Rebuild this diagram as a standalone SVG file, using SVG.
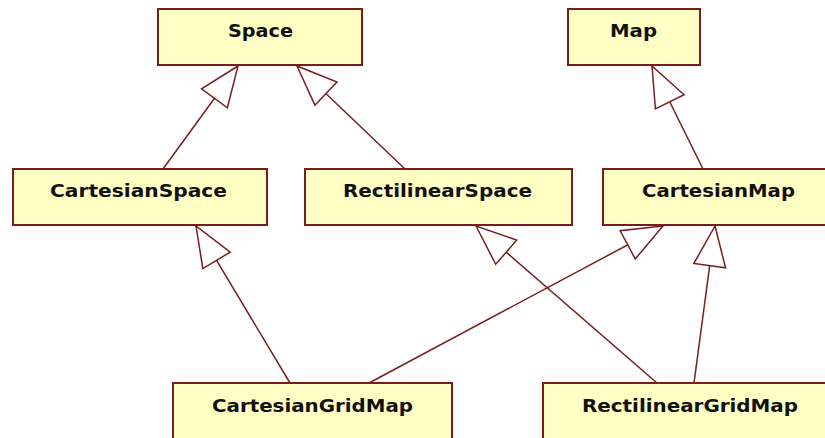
<svg xmlns="http://www.w3.org/2000/svg" width="825" height="438" viewBox="0 0 825 438">
<style>
.box{fill:#ffffc4;stroke:#7a1c1c;stroke-width:2}
.lbl{font-family:"DejaVu Sans",Verdana,sans-serif;font-weight:bold;font-size:17px;fill:#111;text-anchor:middle}
.edge{stroke:#7a1c1c;stroke-width:1.5;fill:none;marker-end:url(#gen)}
</style>
<defs>
<marker id="gen" markerUnits="userSpaceOnUse" markerWidth="44" markerHeight="36" refX="42" refY="18" orient="auto" viewBox="0 0 44 36">
<path d="M42,18 L2,2 L2,34 Z" fill="#fff" stroke="#7a1c1c" stroke-width="1.5"/>
</marker>
</defs>
<rect width="825" height="438" fill="#fff"/>
<g id="connectors">
<line class="edge" x1="163" y1="169" x2="238" y2="66"/>
<line class="edge" x1="405" y1="169" x2="297" y2="66"/>
<line class="edge" x1="703" y1="169" x2="652" y2="66"/>
<line class="edge" x1="290" y1="383" x2="196" y2="226"/>
<line class="edge" x1="369" y1="383" x2="663" y2="226"/>
<line class="edge" x1="657" y1="383" x2="476" y2="226"/>
<line class="edge" x1="694" y1="383" x2="715" y2="226"/>
</g>
<g id="Space"><rect class="box" x="158" y="9" width="204" height="56"/><text class="lbl" x="260.5" y="37" textLength="65" lengthAdjust="spacingAndGlyphs">Space</text></g>
<g id="Map"><rect class="box" x="568" y="9" width="132" height="56"/><text class="lbl" x="633.5" y="37" textLength="47" lengthAdjust="spacingAndGlyphs">Map</text></g>
<g id="CartesianSpace"><rect class="box" x="13" y="169" width="254" height="56"/><text class="lbl" x="138.5" y="197" textLength="177" lengthAdjust="spacingAndGlyphs">CartesianSpace</text></g>
<g id="RectilinearSpace"><rect class="box" x="305" y="169" width="267" height="56"/><text class="lbl" x="437.5" y="197" textLength="189" lengthAdjust="spacingAndGlyphs">RectilinearSpace</text></g>
<g id="CartesianMap"><rect class="box" x="603" y="169" width="232" height="56"/><text class="lbl" x="718.5" y="197" textLength="153" lengthAdjust="spacingAndGlyphs">CartesianMap</text></g>
<g id="CartesianGridMap"><rect class="box" x="173" y="383" width="279" height="60"/><text class="lbl" x="312.5" y="412" textLength="201" lengthAdjust="spacingAndGlyphs">CartesianGridMap</text></g>
<g id="RectilinearGridMap"><rect class="box" x="543" y="383" width="294" height="60"/><text class="lbl" x="690" y="412" textLength="216" lengthAdjust="spacingAndGlyphs">RectilinearGridMap</text></g>
</svg>
